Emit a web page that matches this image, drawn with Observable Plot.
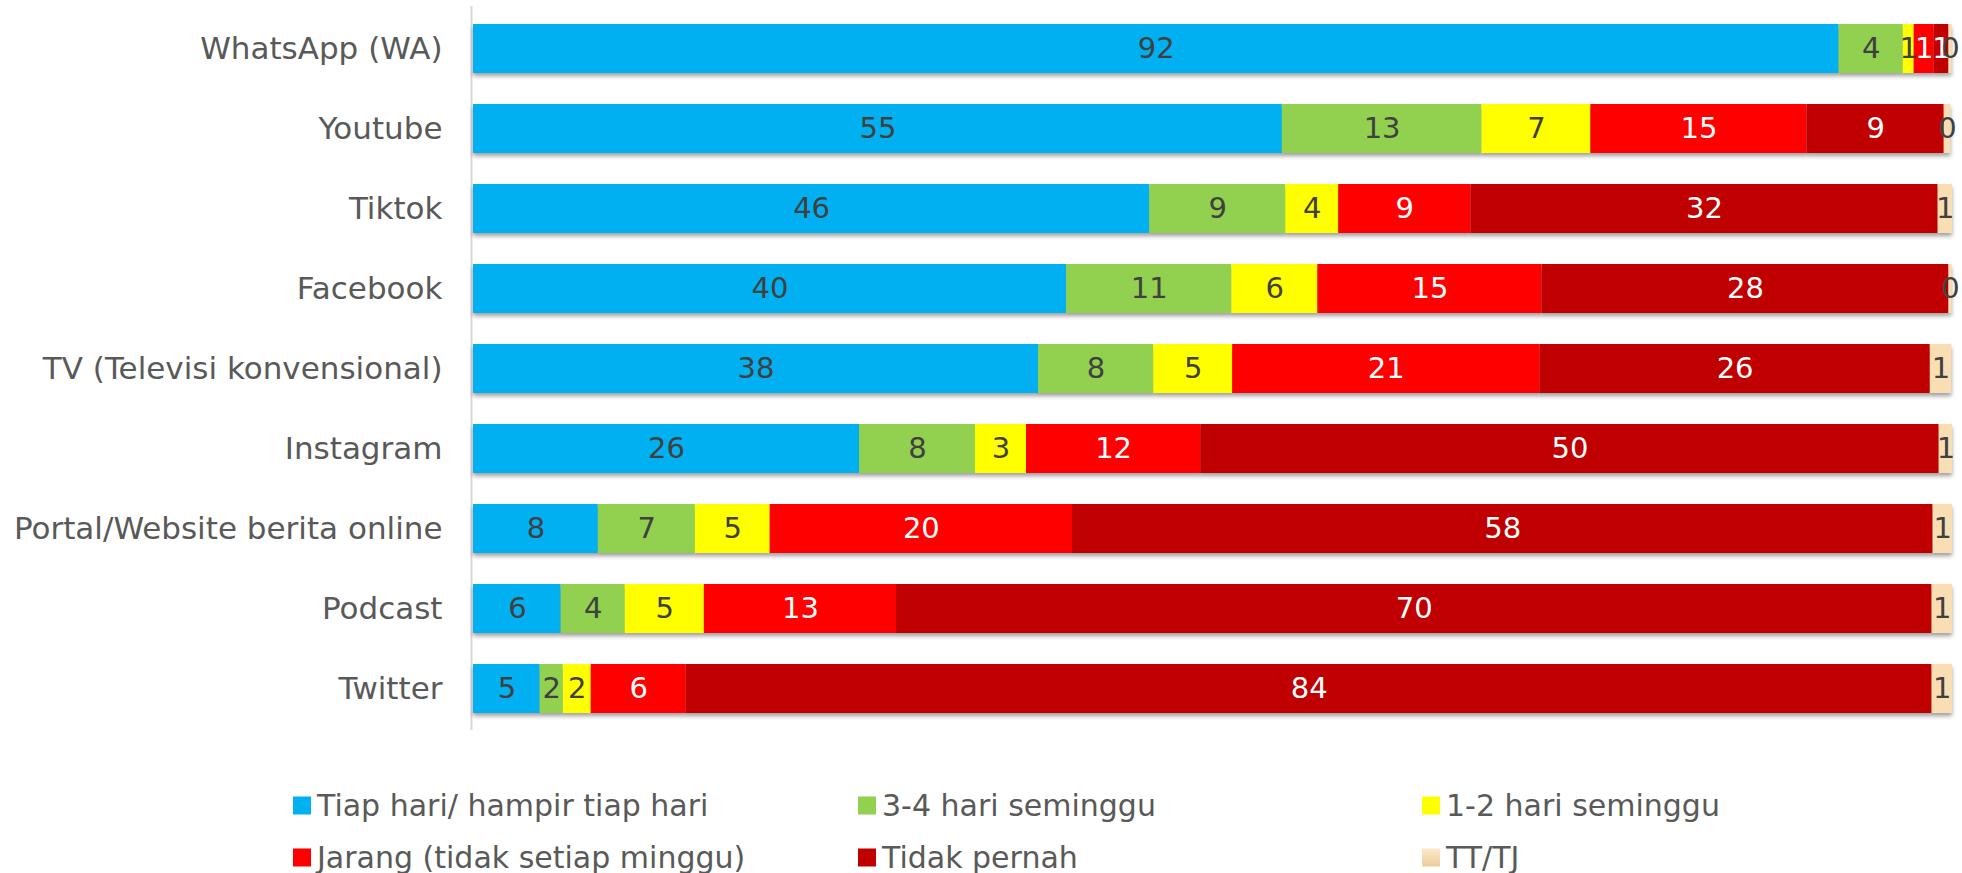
<!DOCTYPE html>
<html>
<head>
<meta charset="utf-8">
<script src="https://cdn.jsdelivr.net/npm/d3@7"></script>
<script src="https://cdn.jsdelivr.net/npm/@observablehq/plot@0.6"></script>
<style>
  html, body { margin: 0; padding: 0; background: #fff; }
  #wrap { width: 1962px; position: relative; }
  g[aria-label="bar"] { filter: drop-shadow(0px 3px 2px rgba(0,0,0,0.38)); }
  #legend { position: relative; width: 1962px; height: 138px; font-family: "DejaVu Sans", sans-serif; font-size: 30px; color: #595959; }
  .item { position: absolute; display: flex; align-items: center; white-space: nowrap; transform: translateY(-50%); }
  .sw { width: 18px; height: 18px; margin-right: 6px; flex: none; }
</style>
</head>
<body>
<div id="wrap"></div>
<script>
const platforms = ["WhatsApp (WA)", "Youtube", "Tiktok", "Facebook", "TV (Televisi konvensional)", "Instagram", "Portal/Website berita online", "Podcast", "Twitter"];
const categories = ["Tiap hari/ hampir tiap hari", "3-4 hari seminggu", "1-2 hari seminggu", "Jarang (tidak setiap minggu)", "Tidak pernah", "TT/TJ"];
const colors = ["#00B0F0", "#92D050", "#FFFF00", "#FF0000", "#C00000", "#F9DEB4"];
const labelColors = ["#404040", "#404040", "#404040", "#ffffff", "#ffffff", "#404040"];

const tiapHari    = [92.33, 54.69, 45.72, 40.10, 38.20, 26.10, 8.44, 5.93, 4.51];
const hari34      = [4.34, 13.49, 9.20, 11.17, 7.79, 7.84, 6.56, 4.33, 1.56];
const hari12      = [0.74, 7.37, 3.58, 5.82, 5.34, 3.45, 5.06, 5.35, 1.89];
const jarang      = [1.35, 14.62, 8.94, 15.15, 20.77, 11.78, 20.44, 12.99, 6.43];
const tidakPernah = [1.00, 9.27, 31.59, 27.52, 26.40, 49.93, 58.19, 70.02, 84.23];
const ttTj        = [0.20, 0.45, 0.97, 0.20, 1.45, 0.90, 1.31, 1.38, 1.38];

const series = [tiapHari, hari34, hari12, jarang, tidakPernah, ttTj];
const data = [];
platforms.forEach((p, i) => {
  categories.forEach((c, j) => {
    data.push({platform: p, category: c, value: series[j][i], labelColor: labelColors[j]});
  });
});

const chart = Plot.plot({
  width: 1962,
  height: 735,
  marginLeft: 473,
  marginRight: 10,
  marginTop: 6,
  marginBottom: 5,
  style: {fontFamily: "DejaVu Sans", fontSize: "30px", background: "#fff"},
  x: {domain: [0, 100], axis: null},
  y: {domain: platforms, paddingInner: 0.39, paddingOuter: 0.2, axis: null},
  color: {domain: categories, range: colors},
  marks: [
    Plot.ruleX([0], {stroke: "#d9d9d9", strokeWidth: 2, dx: -2}),
    Plot.axisY({tickSize: 0, tickPadding: 31, fontSize: 31, fill: "#595959", label: null}),
    Plot.barX(data, {x: "value", y: "platform", fill: "category", order: categories}),
    Plot.text(data, Plot.stackX({
      x: "value", y: "platform", z: "category", order: categories,
      text: d => String(Math.round(d.value)),
      fill: "labelColor",
      fontSize: 29,
      textAnchor: "middle"
    }))
  ]
});
document.getElementById("wrap").appendChild(chart);

// Legend (HTML)
const legend = document.createElement("div");
legend.id = "legend";
const lx = [293, 858, 1422];
const ly = [70, 122];
categories.forEach((c, j) => {
  const it = document.createElement("div");
  it.className = "item";
  it.style.left = lx[j % 3] + "px";
  it.style.top = ly[Math.floor(j / 3)] + "px";
  const sw = document.createElement("span");
  sw.className = "sw";
  sw.style.background = j === 5 ? "linear-gradient(#FDE9CB, #EDCC9A)" : colors[j];
  const t = document.createElement("span");
  t.textContent = c;
  it.appendChild(sw);
  it.appendChild(t);
  legend.appendChild(it);
});
document.getElementById("wrap").appendChild(legend);
</script>
</body>
</html>
